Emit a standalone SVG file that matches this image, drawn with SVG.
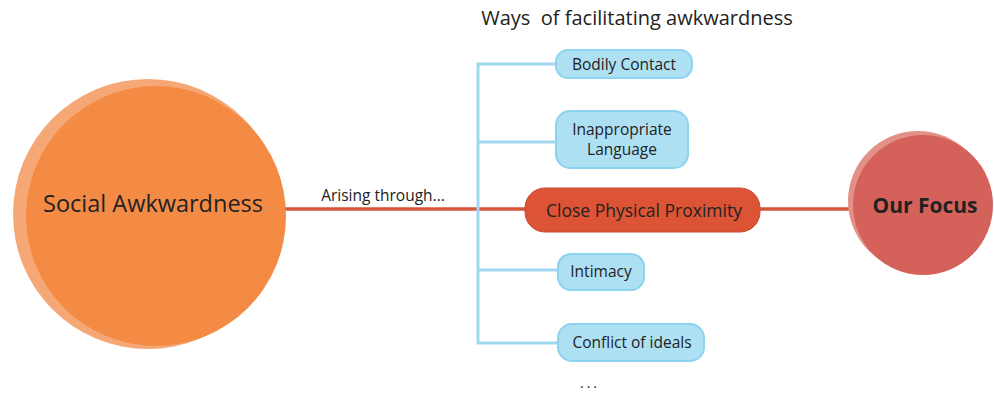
<svg xmlns="http://www.w3.org/2000/svg" width="994" height="395" viewBox="0 0 994 395">
<style>
text{font-family:"Open Sans","Liberation Sans",sans-serif;fill:#222}
.box{fill:#aee0f4;stroke:#8dd2ee;stroke-width:2}
.blue{stroke:#9fd8f0;stroke-width:3;fill:none}
.red{stroke:#d4573c;stroke-width:3.5;fill:none}
.lbl{font-size:15.5px;text-anchor:middle}
</style>
<rect width="994" height="395" fill="#fff"/>
<g id="connectors">
<line class="red" x1="285" y1="209" x2="860" y2="209"/>
<path class="blue" d="M556 64 H478 V343 H558 M478 142 H556 M478 270 H558"/>
</g>
<g id="social">
<circle cx="148" cy="214" r="135" fill="#f5a876"/>
<circle cx="156" cy="216" r="130" fill="#f48b45"/>
<text x="153" y="212" font-size="23.5" text-anchor="middle" fill="#2a1a10">Social Awkwardness</text>
</g>
<g id="arising"><text x="383" y="201" font-size="15.5" text-anchor="middle">Arising through...</text></g>
<g id="title"><text x="637" y="25" font-size="20" text-anchor="middle" xml:space="preserve">Ways  of facilitating awkwardness</text></g>
<g id="bodily"><rect class="box" x="556" y="50" width="136" height="28" rx="12"/><text class="lbl" x="624" y="70">Bodily Contact</text></g>
<g id="inapp"><rect class="box" x="556" y="111" width="132" height="57" rx="14"/><text class="lbl" x="622" y="135">Inappropriate</text><text class="lbl" x="622" y="155">Language</text></g>
<g id="close"><rect x="525" y="188" width="235" height="44" rx="20" fill="#dc5435" stroke="#c94a30" stroke-width="1"/><text x="644" y="217" font-size="17.5" text-anchor="middle" fill="#2a1410">Close Physical Proximity</text></g>
<g id="intimacy"><rect class="box" x="558" y="254" width="86" height="36" rx="13"/><text class="lbl" x="601" y="277">Intimacy</text></g>
<g id="conflict"><rect class="box" x="558" y="324" width="146" height="37" rx="14"/><text class="lbl" x="632" y="348">Conflict of ideals</text></g>
<g id="focus">
<circle cx="918" cy="201" r="70" fill="#e39088"/>
<circle cx="923" cy="205" r="70" fill="#d4625a"/>
<text x="925" y="213" font-size="21" font-weight="bold" text-anchor="middle" fill="#2a1410">Our Focus</text>
</g>
<g id="dots"><text x="590" y="388" font-size="14" letter-spacing="3" text-anchor="middle">...</text></g>
</svg>
